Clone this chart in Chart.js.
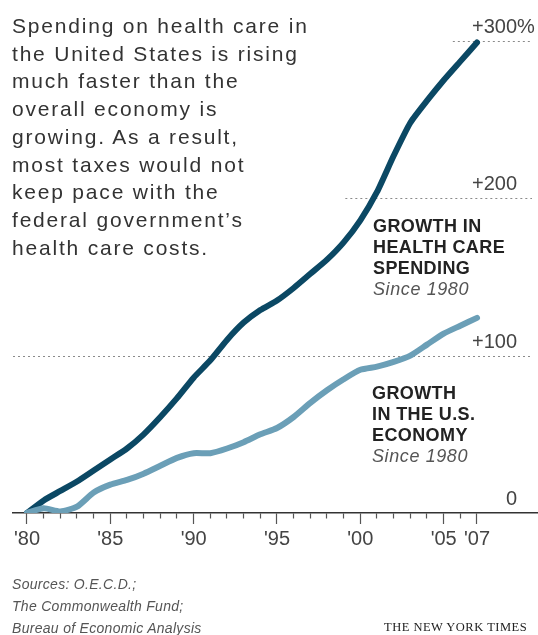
<!DOCTYPE html>
<html>
<head>
<meta charset="utf-8">
<script src="https://cdn.jsdelivr.net/npm/chart.js@4.4.1/dist/chart.umd.min.js"></script>
<style>
html,body{margin:0;padding:0;background:#fff;}
#wrap{position:relative;width:538px;height:635px;overflow:hidden;font-family:"Liberation Sans",Arial,Helvetica,sans-serif;}
#c{position:absolute;left:0;top:0;}
.t{position:absolute;white-space:nowrap;}
#intro{left:12px;top:12px;font-size:21px;line-height:27.7px;letter-spacing:1.8px;color:#333;}
.lab{font-size:18px;line-height:21px;font-weight:bold;color:#222;letter-spacing:0.4px;}
.lab i{font-weight:normal;color:#555;letter-spacing:0.6px;}
#lab1{left:373px;top:216px;}
#lab2{left:372px;top:383px;}
#src{left:12px;top:573px;font-size:14px;line-height:22px;font-style:italic;color:#555;letter-spacing:0.3px;}
#nyt{left:384px;top:620px;font-family:"Liberation Serif","Times New Roman",serif;font-size:12.5px;letter-spacing:0.5px;color:#222;}
</style>
</head>
<body>
<div id="wrap">
<canvas id="c" width="538" height="635"></canvas>
<div class="t" id="intro">Spending on health care in<br>the United States is rising<br>much faster than the<br>overall economy is<br>growing. As a result,<br>most taxes would not<br>keep pace with the<br>federal government’s<br>health care costs.</div>
<div class="t lab" id="lab1">GROWTH IN<br>HEALTH CARE<br>SPENDING<br><i>Since 1980</i></div>
<div class="t lab" id="lab2">GROWTH<br>IN THE U.S.<br>ECONOMY<br><i>Since 1980</i></div>
<div class="t" id="src">Sources: O.E.C.D.;<br>The Commonwealth Fund;<br>Bureau of Economic Analysis</div>
<div class="t" id="nyt">THE NEW YORK TIMES</div>
</div>
<script>
// ---- data (percent growth since 1980) ----
const years = [1980,1981,1982,1983,1984,1985,1986,1987,1988,1989,1990,1991,1992,1993,1994,1995,1996,1997,1998,1999,2000,2001,2002,2003,2004,2005,2006,2007];
const healthSpending = [0,8,14,20,27,34,41,50,61,73,86,97,110,121,129,135,143,152,161,172,186,204,227,248,262,275,287,299];
const economy = [0,3,1,4,13,18,21,25,30,35,38,38,41,45,50,54,61,70,78,85,91,93,96,100,107,114,119,124];
const xLabelYears = [1980,1985,1990,1995,2000,2005,2007];
const yTickValues = [0,100,200,300];
const yTickLabels = ['0','+100','+200','+300'];
const yTickSuffix = ['','','','%'];
// year at which each dotted reference line starts (null = left edge)
const refLineStartYears = [null,null,1999.1,2005.55];

const FONT = '"Liberation Sans", Arial, Helvetica, sans-serif';

const refLines = {
  id: 'refLines',
  beforeDatasetsDraw(chart) {
    const {ctx, chartArea: a, scales: {x, y}} = chart;
    ctx.save();
    ctx.strokeStyle = '#8a8a8a';
    ctx.lineWidth = 1;
    ctx.setLineDash([2, 3]);
    yTickValues.forEach((v, i) => {
      if (v === 0) return;
      const py = Math.round(y.getPixelForValue(v)) + 0.5;
      const sy = refLineStartYears[i];
      const px = sy == null ? a.left : x.getPixelForValue(sy);
      ctx.beginPath();
      ctx.moveTo(px, py);
      ctx.lineTo(a.right - 6, py);
      ctx.stroke();
    });
    ctx.setLineDash([]);
    ctx.font = '20px ' + FONT;
    ctx.fillStyle = '#444';
    ctx.textBaseline = 'alphabetic';
    const rx = a.right - 21;
    yTickValues.forEach((v, i) => {
      const py = y.getPixelForValue(v) - 8;
      ctx.textAlign = 'right';
      ctx.fillText(yTickLabels[i], rx, py);
      if (yTickSuffix[i]) {
        ctx.textAlign = 'left';
        ctx.fillText(yTickSuffix[i], rx, py);
      }
    });
    ctx.restore();
  }
};

new Chart(document.getElementById('c'), {
  type: 'line',
  data: {
    datasets: [
      {
        label: 'Growth in the U.S. economy',
        data: years.map((yr, i) => ({x: yr, y: economy[i]})),
        borderColor: '#6b9fb7',
        borderWidth: 6,
        pointRadius: 0,
        tension: 0.2,
        borderCapStyle: 'round',
        borderJoinStyle: 'round',
        fill: false
      },
      {
        label: 'Growth in health care spending',
        data: years.map((yr, i) => ({x: yr, y: healthSpending[i]})),
        borderColor: '#0b4864',
        borderWidth: 6,
        pointRadius: 0,
        tension: 0.2,
        borderCapStyle: 'round',
        borderJoinStyle: 'round',
        fill: false
      }
    ]
  },
  options: {
    responsive: false,
    animation: false,
    devicePixelRatio: 1,
    layout: {padding: {left: 13, right: 0, top: 0, bottom: 0}},
    plugins: {legend: {display: false}, tooltip: {enabled: false}},
    scales: {
      x: {
        type: 'linear',
        position: 'bottom',
        min: 1979.16,
        max: 2010.66,
        afterBuildTicks: s => { s.ticks = years.map(v => ({value: v})); },
        afterFit: s => { s.height = 122; },
        border: {display: true, color: '#333', width: 1.5},
        grid: {
          display: true,
          drawOnChartArea: false,
          drawTicks: true,
          tickLength: 11,
          tickColor: '#555',
          tickWidth: 1.2,
          tickBorderDash: c => (c.tick && xLabelYears.includes(c.tick.value)) ? [] : [5, 100]
        },
        ticks: {
          autoSkip: false,
          maxRotation: 0,
          padding: 3,
          color: '#444',
          font: {family: FONT, size: 20},
          callback: v => xLabelYears.includes(v) ? "'" + String(v).slice(2) : ''
        }
      },
      y: {
        type: 'linear',
        position: 'right',
        min: 0,
        max: 326,
        afterFit: s => { s.width = 0; },
        border: {display: false},
        grid: {display: false},
        ticks: {display: false}
      }
    }
  },
  plugins: [refLines]
});
</script>
</body>
</html>
